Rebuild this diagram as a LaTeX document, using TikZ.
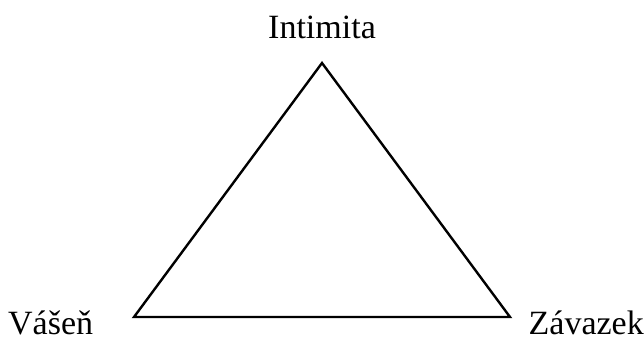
\documentclass[tikz,border=0pt]{standalone}
\usepackage{fontspec}
\setmainfont{Liberation Serif}
\begin{document}
\begin{tikzpicture}[x=1pt,y=-1pt,
  lbl/.style={inner sep=0pt,font=\fontsize{34}{40}\selectfont},
  edge/.style={line width=2.4pt,line join=miter}]
\useasboundingbox (0,0) rectangle (644,354);
\coordinate (top) at (322,63);
\coordinate (bl) at (134,317);
\coordinate (br) at (510,317);
\draw[edge] (top) -- (bl) -- (br) -- cycle;
\node[lbl,anchor=base] (intim) at (322,38) {Intimita};
\node[lbl,anchor=base west] (vasen) at (8,334) {Vášeň};
\node[lbl,anchor=base east] (zavaz) at (644,334) {Závazek};
\end{tikzpicture}
\end{document}
